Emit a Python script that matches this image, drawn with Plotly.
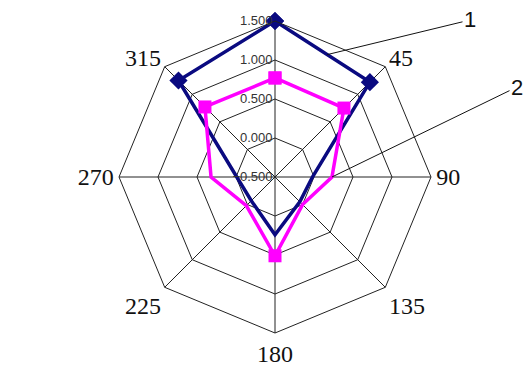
import math
import plotly.graph_objects as go

# Angular categories (degrees) and their displayed labels
directions = ["0", "45", "90", "135", "180", "225", "270", "315"]
direction_labels = ["", "45", "90", "135", "180", "225", "270", "315"]

# Radial scale
radial_ticks = [-0.5, 0.0, 0.5, 1.0, 1.5]
radial_range = [-0.5, 1.5]

# Series values by direction
series_1 = [1.50, 1.22, -0.02, -0.05, 0.24, -0.07, -0.01, 1.25]
series_2 = [0.77, 0.75, 0.23, 0.00, 0.51, 0.02, 0.32, 0.77]

W, H = 526, 369
CX, CY, R = 275, 177, 156  # polar centre and radius in pixels


def closed(vals):
    return list(vals) + [vals[0]]


fig = go.Figure()
fig.add_trace(go.Scatterpolar(
    r=closed(series_1), theta=closed(directions), mode="lines+markers",
    line=dict(color="#0a0a80", width=3.5),
    marker=dict(symbol="diamond", size=14, color="#0a0a80"),
    showlegend=False, name="1"))
fig.add_trace(go.Scatterpolar(
    r=closed(series_2), theta=closed(directions), mode="lines+markers",
    line=dict(color="#ff00ff", width=3.5),
    marker=dict(symbol="square", size=13, color="#ff00ff"),
    showlegend=False, name="2"))


def to_pixels(value, angle_deg):
    """Pixel position of a value on a direction of the polar plot."""
    rad = (value - radial_range[0]) / (radial_range[1] - radial_range[0]) * R
    a = math.radians(angle_deg)
    return CX + rad * math.sin(a), CY - rad * math.cos(a)


# Leader for series 1: a point along its segment between 0 and 45 degrees
p0 = to_pixels(series_1[0], 0)
p1 = to_pixels(series_1[1], 45)
t = 0.55
tip1 = (p0[0] + t * (p1[0] - p0[0]), p0[1] + t * (p1[1] - p0[1]))
# Leader for series 2: its point at 90 degrees
tip2 = to_pixels(series_2[2], 90)

label_pos = {"1": (470, 20), "2": (517, 87)}
for text, tip in (("1", tip1), ("2", tip2)):
    lx, ly = label_pos[text]
    fig.add_annotation(
        x=tip[0] / W, y=1 - tip[1] / H, xref="paper", yref="paper",
        ax=lx - tip[0], ay=ly - tip[1], axref="pixel", ayref="pixel",
        text=text, showarrow=True, arrowhead=0, arrowwidth=1,
        arrowcolor="#111", standoff=0,
        font=dict(family="Liberation Sans, Arial", size=22, color="#111"))

fig.update_layout(
    width=W, height=H,
    margin=dict(l=0, r=0, t=0, b=0),
    paper_bgcolor="white",
    polar=dict(
        domain=dict(x=[(CX - R) / W, (CX + R) / W],
                    y=[1 - (CY + R) / H, 1 - (CY - R) / H]),
        bgcolor="white",
        gridshape="linear",
        angularaxis=dict(
            type="category", categoryarray=directions,
            direction="clockwise", rotation=90,
            tickmode="array", tickvals=directions, ticktext=direction_labels,
            ticks="", showline=True, linecolor="#222", linewidth=1,
            gridcolor="#222", gridwidth=1,
            tickfont=dict(family="Liberation Serif, Times New Roman", size=24,
                          color="#111")),
        radialaxis=dict(
            range=radial_range, tickmode="array", tickvals=radial_ticks,
            tickformat=".3f", angle=90, tickangle=90, side="counterclockwise",
            ticks="", showline=False, gridcolor="#222", gridwidth=1,
            tickfont=dict(family="Liberation Sans, Arial", size=13,
                          color="#333")),
    ),
)

fig.write_html("out.html")
